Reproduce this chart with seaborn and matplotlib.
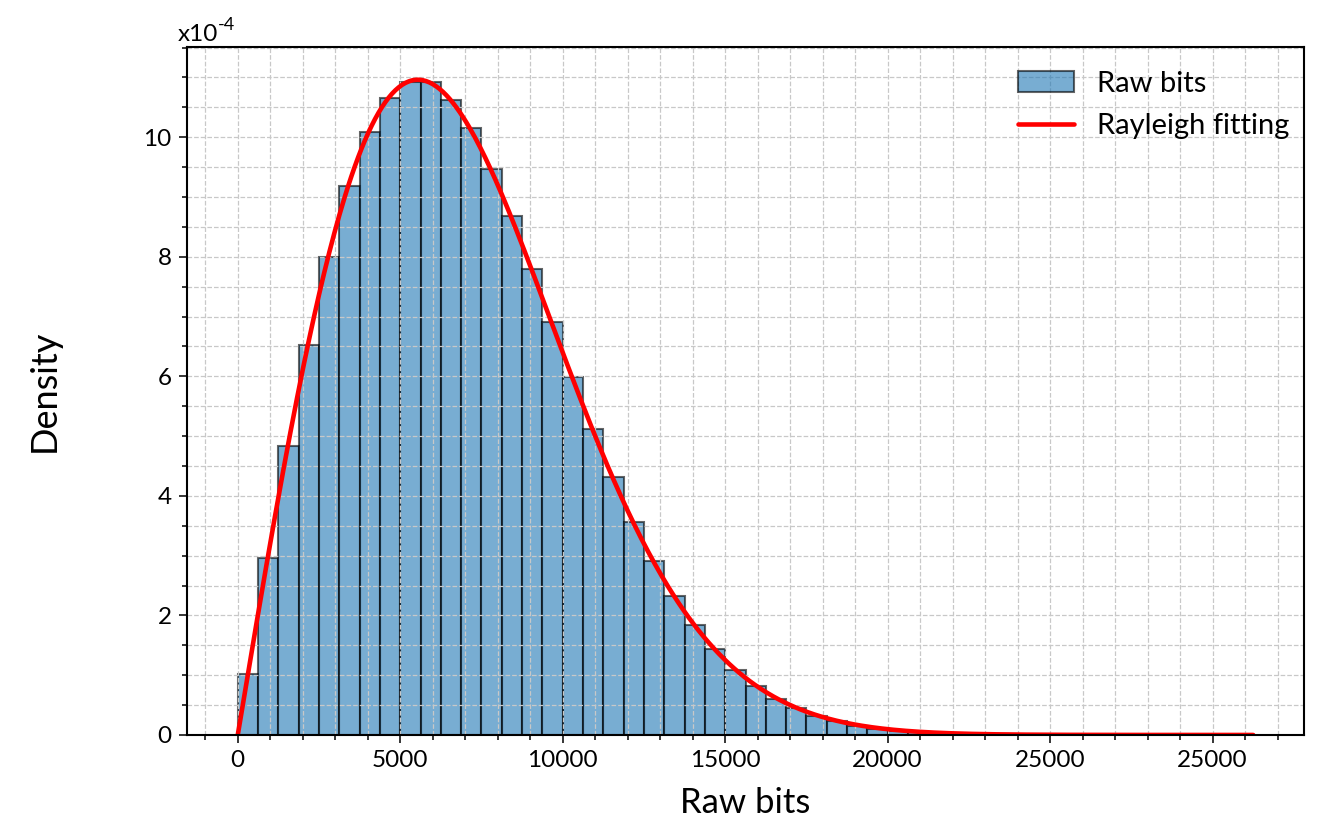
import numpy as np
import pandas as pd
import matplotlib
matplotlib.use('Agg')
from matplotlib import pyplot as plt
from matplotlib.patches import Patch
from matplotlib.lines import Line2D
from matplotlib.ticker import MultipleLocator, FixedLocator, FixedFormatter
import seaborn as sns

# histogram (bin width 625, heights in units of the y axis)
bin_width = 625
heights = [1.02, 2.96, 4.83, 6.52, 8.00, 9.18, 10.09, 10.66, 10.92, 10.92,
           10.62, 10.16, 9.47, 8.68, 7.80, 6.91, 5.99, 5.12, 4.31, 3.57,
           2.91, 2.33, 1.84, 1.43, 1.09, 0.82, 0.61, 0.45, 0.32, 0.23,
           0.15, 0.10, 0.07, 0.05, 0.03, 0.02, 0.015, 0.01, 0.005, 0.003,
           0, 0, 0, 0, 0, 0, 0, 0, 0, 0.001]
xtick_pos = [0, 5000, 10000, 15000, 20000, 25000, 30000]
xtick_labels = ['0', '5000', '10000', '15000', '20000', '25000', '25000']

edges = np.arange(len(heights) + 1) * bin_width
centers = edges[:-1] + bin_width / 2
h = np.array(heights)
df = pd.DataFrame({'bits': centers, 'dens': h})

# rayleigh fit of the binned data (MLE of sigma), scaled to histogram area
sigma = np.sqrt(np.sum(h * centers ** 2) / (2 * np.sum(h)))
area = np.sum(h) * bin_width
xs = np.linspace(0, edges[-1], 600)
fit = area * xs / sigma ** 2 * np.exp(-xs ** 2 / (2 * sigma ** 2))

sns.set_theme(style='white')
plt.rcParams['font.family'] = ['Lato', 'DejaVu Sans']
for k in ['text.color', 'axes.labelcolor', 'xtick.color', 'ytick.color']:
    plt.rcParams[k] = 'black'

fig = plt.figure(figsize=(13.29, 8.3), dpi=100)
ax = fig.add_axes([0.1407, 0.1145, 0.8405, 0.8289])

edge_col = (0, 0, 0, 0.6)
sns.histplot(data=df, x='bits', weights='dens', bins=list(edges), stat='count', ax=ax,
             color='#1f77b4', alpha=0.6, edgecolor=edge_col, linewidth=1.5)
sns.lineplot(x=xs, y=fit, ax=ax, color='red', linewidth=3.3)

ax.margins(x=0.05)
ax.set_ylim(0, fit.max() * 1.05)

ax.xaxis.set_major_locator(FixedLocator(xtick_pos))
ax.xaxis.set_major_formatter(FixedFormatter(xtick_labels))
ax.xaxis.set_minor_locator(MultipleLocator(1000))
ax.yaxis.set_major_locator(MultipleLocator(2))
ax.yaxis.set_minor_locator(MultipleLocator(0.5))

ax.set_axisbelow('line')
ax.grid(True, which='both', linestyle='--', color='#c8c8c8', linewidth=0.9)
ax.tick_params(which='both', direction='out', color='black', width=1.1,
               labelsize=17.5, bottom=True, left=True)
ax.tick_params(which='major', length=6, pad=5)
ax.tick_params(which='minor', length=3.5)
for sp in ax.spines.values():
    sp.set_color('black')
    sp.set_linewidth(1.5)

ax.set_xlabel('Raw bits', fontsize=25)
ax.set_ylabel('Density', fontsize=26)
ax.xaxis.set_label_coords(0.5, -0.075)
ax.yaxis.set_label_coords(-0.113, 0.5)

t1 = ax.annotate('x10', xy=(0, 1), xycoords='axes fraction',
                 xytext=(-9, 2), textcoords='offset pixels',
                 ha='left', va='bottom', fontsize=17.5)
ax.annotate('-4', xy=(1, 0.55), xycoords=t1, ha='left', va='bottom', fontsize=13)

handles = [Patch(facecolor='#1f77b4', alpha=0.6, edgecolor='black', linewidth=1.5),
           Line2D([0], [0], color='red', linewidth=3.3)]
ax.legend(handles, ['Raw bits', 'Rayleigh fitting'], loc='upper right',
          bbox_to_anchor=(1.0, 0.987), frameon=False, fontsize=21,
          handlelength=1.9, handletextpad=0.8, borderaxespad=0.1,
          labelspacing=0.57)

fig.savefig('out.png', dpi=100)
